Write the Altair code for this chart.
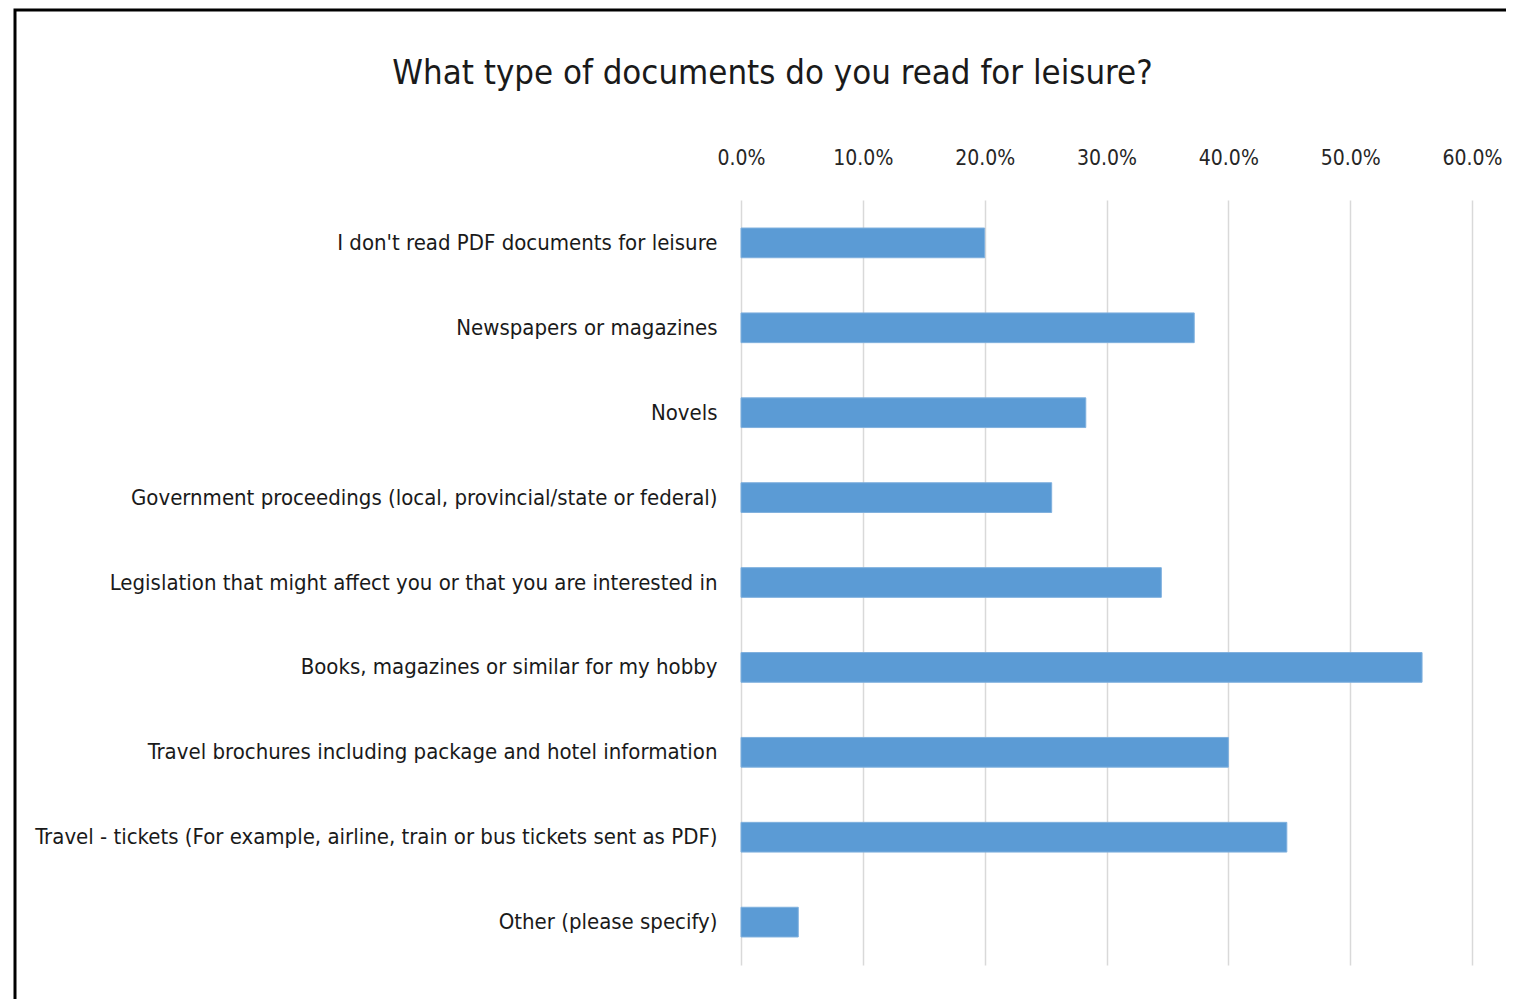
import altair as alt
import pandas as pd

categories = [
    "I don't read PDF documents for leisure",
    "Newspapers or magazines",
    "Novels",
    "Government proceedings (local, provincial/state or federal)",
    "Legislation that might affect you or that you are interested in",
    "Books, magazines or similar for my hobby",
    "Travel brochures including package and hotel information",
    "Travel - tickets (For example, airline, train or bus tickets sent as PDF)",
    "Other (please specify)",
]
values = [0.200, 0.372, 0.283, 0.255, 0.345, 0.559, 0.400, 0.448, 0.047]

df = pd.DataFrame({"category": categories, "value": values})

FONT = "DejaVu Sans Condensed, Liberation Sans Narrow, Lato, sans-serif"

bars = alt.Chart(df).mark_bar(
    color="#5B9BD5", stroke="#7FB0DE", strokeWidth=1
).encode(
    x=alt.X(
        "value:Q",
        scale=alt.Scale(domain=[0, 0.6], nice=False),
        axis=alt.Axis(
            orient="top", format=".1%", values=[0, 0.1, 0.2, 0.3, 0.4, 0.5, 0.6],
            domain=False, ticks=False, grid=True, gridColor="#d9d9d9", gridWidth=1.5,
            labelFont=FONT, labelFontSize=21, labelColor="#262626", labelPadding=32,
            labelFlush=False, title=None,
        ),
    ),
    y=alt.Y(
        "category:N", sort=categories,
        scale=alt.Scale(paddingInner=0.65, paddingOuter=0.33),
        axis=alt.Axis(
            domain=False, ticks=False, grid=False, labelFont=FONT, labelFontSize=22,
            labelColor="#1a1a1a", labelPadding=24, labelLimit=800, title=None,
        ),
    ),
)

frame = alt.Chart(pd.DataFrame({"f": [1]})).mark_rect(
    fill=None, stroke="black", strokeWidth=3
).encode(
    x=alt.value(-726), x2=alt.value(1000), y=alt.value(-190), y2=alt.value(1000)
)

chart = alt.layer(frame, bars).properties(
    width=731,
    height=765,
    padding={"left": 733, "top": 192, "right": 34, "bottom": 34},
    autosize=alt.AutoSizeParams(type="none"),
    background="white",
    title=alt.TitleParams(
        "What type of documents do you read for leisure?",
        font=FONT, fontSize=34.5, fontWeight="normal", color="#1a1a1a",
        anchor="middle", dx=-334, offset=0, dy=83,
    ),
).configure_view(stroke="transparent", strokeWidth=0)

chart.save("out.html", embed_options={"renderer": "svg", "actions": False})
